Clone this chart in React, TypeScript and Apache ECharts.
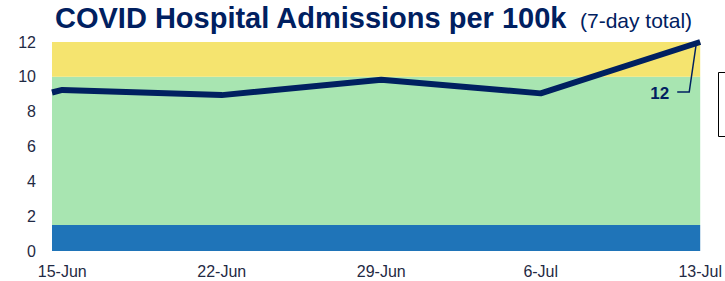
import React, { useEffect, useRef } from "react";
import * as echarts from "echarts";

const tickLabels = ["15-Jun", "22-Jun", "29-Jun", "6-Jul", "13-Jul"];
const tickDays = [0, 7, 14, 21, 28];
const lineDays = [-0.45, 0, 7, 14, 21, 28];
const admissions = [9.1, 9.25, 8.95, 9.83, 9.05, 12];
const bandEdges = [0, 1.5, 10, 12];
const titleMain = "COVID Hospital Admissions per 100k";
const titleSub = "(7-day total)";

export default function App() {
  const ref = useRef<HTMLDivElement>(null);
  useEffect(() => {
    if (!ref.current) return;
    const chart = echarts.init(ref.current, undefined, { renderer: "svg" });
    const bandColors = ["#1f74b8", "#a8e5b1", "#f5e46f"];
    const navy = "#002060";
    const lastIdx = admissions.length - 1;
    const baseGraphics: any[] = [
      {
        type: "text",
        left: 55,
        top: 3,
        style: {
          text: titleMain,
          fontFamily: "Liberation Sans",
          fontWeight: "bold",
          fontSize: 29,
          fill: navy,
        },
      },
      {
        type: "text",
        left: 580,
        top: 10,
        style: {
          text: titleSub,
          fontFamily: "Liberation Sans",
          fontSize: 21,
          fill: navy,
        },
      },
      {
        type: "rect",
        shape: { x: 718.5, y: 72.5, width: 30, height: 64 },
        style: { fill: "#fff", stroke: "#000", lineWidth: 1 },
      },
    ];
    chart.setOption({
      animation: false,
      graphic: baseGraphics,
      grid: { left: 52, right: 23, top: 42, bottom: 30 },
      xAxis: {
        type: "value",
        min: lineDays[0],
        max: tickDays[tickDays.length - 1],
        axisLine: { show: false },
        axisTick: { show: false },
        splitLine: { show: false },
        axisLabel: {
          customValues: tickDays,
          formatter: (v: number) => tickLabels[tickDays.indexOf(Math.round(v))] ?? "",
          fontFamily: "Liberation Sans",
          fontSize: 16,
          color: "#1f2a44",
          margin: 12,
        },
      },
      yAxis: {
        type: "value",
        min: 0,
        max: 12,
        interval: 2,
        axisLine: { show: false },
        axisTick: { show: false },
        splitLine: { show: false },
        axisLabel: {
          fontFamily: "Liberation Sans",
          fontSize: 16,
          color: "#1f2a44",
          margin: 16,
        },
      },
      series: [
        {
          type: "line",
          data: lineDays.map((d, i) => [d, admissions[i]]),
          showSymbol: false,
          symbol: "none",
          clip: false,
          lineStyle: { color: navy, width: 6 },
          markArea: {
            silent: true,
            data: bandColors.map((c, i) => [
              { yAxis: bandEdges[i], itemStyle: { color: c, opacity: 1 } },
              { yAxis: bandEdges[i + 1] },
            ]),
          },
        },
      ],
    });
    const p = chart.convertToPixel({ gridIndex: 0 }, [lineDays[lastIdx], admissions[lastIdx]]) as number[];
    const px = p[0];
    const py = p[1];
    chart.setOption({
      graphic: [
        ...baseGraphics,
        {
          type: "polyline",
          z: 10,
          shape: {
            points: [
              [px - 4, py + 2],
              [px - 11, py + 50],
              [px - 23, py + 50],
            ],
          },
          style: { stroke: navy, lineWidth: 1.5, fill: "none" },
        },
        {
          type: "text",
          z: 10,
          x: px - 31,
          y: py + 51,
          style: {
            text: String(admissions[lastIdx]),
            align: "right",
            verticalAlign: "middle",
            fontFamily: "Liberation Sans",
            fontWeight: "bold",
            fontSize: 17,
            fill: navy,
          },
        },
      ],
    });
    return () => chart.dispose();
  }, []);
  return (
    <div
      ref={ref}
      style={{ position: "fixed", left: 0, top: 0, width: 725, height: 281, background: "#fff" }}
    />
  );
}
